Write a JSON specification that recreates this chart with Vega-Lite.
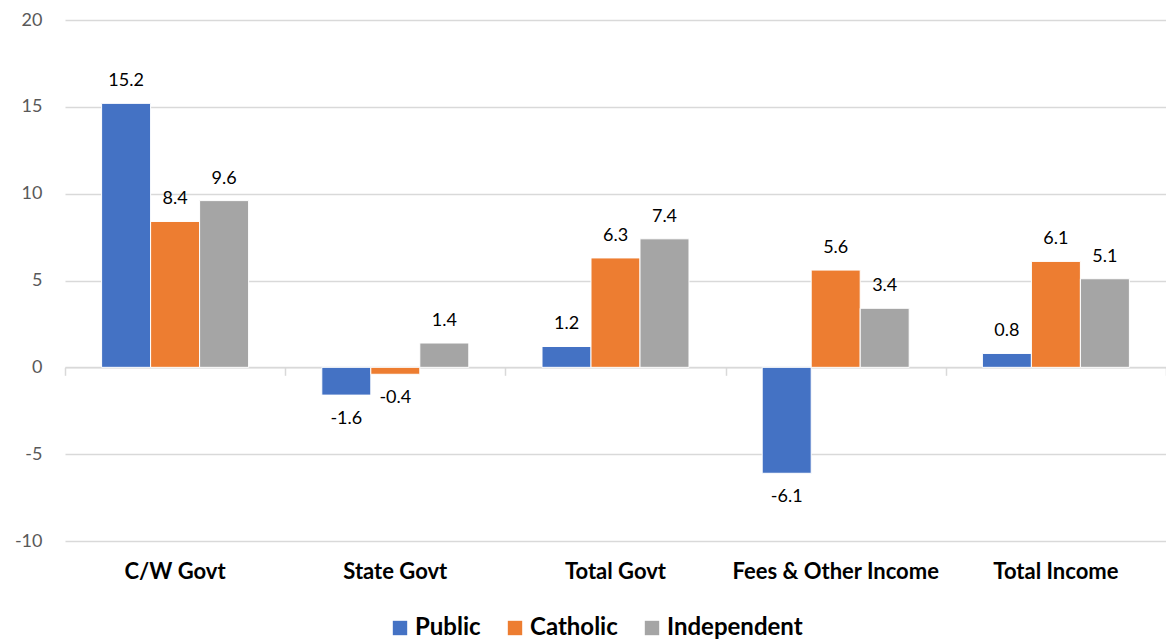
{
  "$schema": "https://vega.github.io/schema/vega-lite/v6.json",
  "width": 1101,
  "height": 521,
  "autosize": {"type": "none"},
  "padding": {"left": 65, "top": 20, "right": 0, "bottom": 100},
  "config": {"view": {"stroke": null}, "font": "Lato"},
  "data": {
    "values": [
      {"category": "C/W Govt", "sector": "Public", "value": 15.2},
      {"category": "C/W Govt", "sector": "Catholic", "value": 8.4},
      {"category": "C/W Govt", "sector": "Independent", "value": 9.6},
      {"category": "State Govt", "sector": "Public", "value": -1.6},
      {"category": "State Govt", "sector": "Catholic", "value": -0.4},
      {"category": "State Govt", "sector": "Independent", "value": 1.4},
      {"category": "Total Govt", "sector": "Public", "value": 1.2},
      {"category": "Total Govt", "sector": "Catholic", "value": 6.3},
      {"category": "Total Govt", "sector": "Independent", "value": 7.4},
      {"category": "Fees & Other Income", "sector": "Public", "value": -6.1},
      {"category": "Fees & Other Income", "sector": "Catholic", "value": 5.6},
      {"category": "Fees & Other Income", "sector": "Independent", "value": 3.4},
      {"category": "Total Income", "sector": "Public", "value": 0.8},
      {"category": "Total Income", "sector": "Catholic", "value": 6.1},
      {"category": "Total Income", "sector": "Independent", "value": 5.1}
    ]
  },
  "transform": [
    {"calculate": "replace(format(datum.value, '.1f'), '\u2212', '-')", "as": "label"}
  ],
  "encoding": {
    "x": {
      "field": "category",
      "type": "nominal",
      "sort": ["C/W Govt", "State Govt", "Total Govt", "Fees & Other Income", "Total Income"],
      "scale": {"paddingInner": 0, "paddingOuter": 0}
    },
    "xOffset": {
      "field": "sector",
      "type": "nominal",
      "sort": ["Public", "Catholic", "Independent"],
      "scale": {"paddingInner": 0, "paddingOuter": 0.747}
    },
    "y": {
      "field": "value",
      "type": "quantitative",
      "scale": {"domain": [-10, 20], "nice": false, "zero": false},
      "axis": {
        "title": null,
        "values": [-10, -5, 0, 5, 10, 15, 20],
        "labelExpr": "'' + datum.value",
        "domain": false,
        "ticks": false,
        "grid": true,
        "gridColor": "#d9d9d9",
        "gridWidth": 1.5,
        "labelFontSize": 18,
        "labelFont": "Lato",
        "labelColor": "#595959",
        "labelPadding": 23
      }
    }
  },
  "layer": [
    {
      "mark": {"type": "bar", "stroke": "white", "strokeWidth": 1},
      "encoding": {
        "x": {
          "field": "category",
          "type": "nominal",
          "sort": ["C/W Govt", "State Govt", "Total Govt", "Fees & Other Income", "Total Income"],
          "axis": {
            "orient": "bottom",
            "offset": -173.7,
            "labels": false,
            "ticks": true,
            "tickBand": "extent",
            "tickSize": 8,
            "tickWidth": 1.5,
            "tickColor": "#d9d9d9",
            "domain": true,
            "domainColor": "#d9d9d9",
            "domainWidth": 1.5,
            "grid": false,
            "title": null
          }
        },
        "color": {
          "field": "sector",
          "type": "nominal",
          "sort": ["Public", "Catholic", "Independent"],
          "scale": {"domain": ["Public", "Catholic", "Independent"], "range": ["#4472C4", "#ED7D31", "#A5A5A5"]},
          "legend": {
            "title": null,
            "orient": "none",
            "direction": "horizontal",
            "legendX": 323,
            "legendY": 596,
            "symbolType": "square",
            "symbolSize": 207,
            "symbolStrokeWidth": 0,
            "labelFont": "Lato",
            "labelFontSize": 24,
            "labelFontWeight": "bold",
            "labelColor": "#000000",
            "labelOffset": 3,
            "columnPadding": 22
          }
        }
      }
    },
    {
      "transform": [{"filter": "datum.value >= 0"}],
      "mark": {"type": "text", "baseline": "alphabetic", "dy": -17, "fontSize": 18, "font": "Lato", "color": "#000000"},
      "encoding": {
        "x": {
          "field": "category",
          "type": "nominal",
          "sort": ["C/W Govt", "State Govt", "Total Govt", "Fees & Other Income", "Total Income"],
          "axis": {
            "orient": "bottom",
            "domain": false,
            "ticks": false,
            "grid": false,
            "labelPadding": 20,
            "labelLimit": 0,
            "labelFont": "Lato",
            "labelFontWeight": "bold",
            "labelFontSize": 22,
            "labelColor": "#000000",
            "labelAngle": 0,
            "title": null
          }
        },
        "text": {"field": "label", "type": "nominal"}
      }
    },
    {
      "transform": [{"filter": "datum.value < 0"}],
      "mark": {"type": "text", "baseline": "top", "dy": 15, "fontSize": 18, "font": "Lato", "color": "#000000"},
      "encoding": {
        "x": {
          "field": "category",
          "type": "nominal",
          "sort": ["C/W Govt", "State Govt", "Total Govt", "Fees & Other Income", "Total Income"],
          "axis": null
        },
        "text": {"field": "label", "type": "nominal"}
      }
    }
  ],
  "resolve": {"axis": {"x": "independent"}}
}
